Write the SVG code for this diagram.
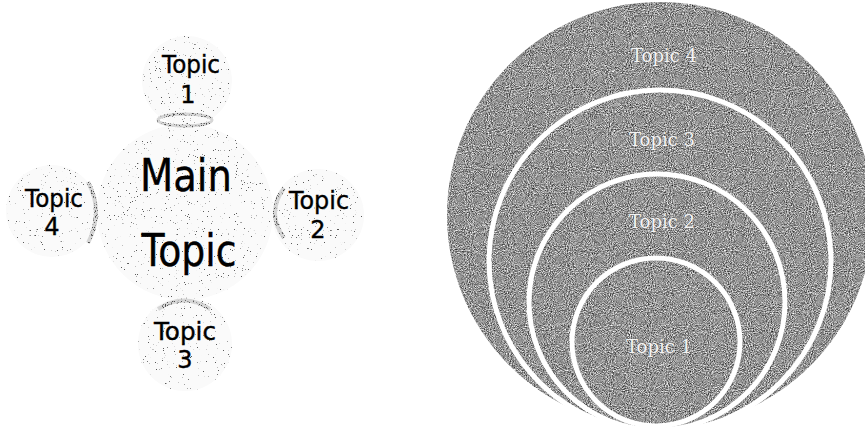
<svg xmlns="http://www.w3.org/2000/svg" width="865" height="429" viewBox="0 0 865 429">
<style>
.bub{fill:#fafafa;}
.lbl{font-family:"DejaVu Sans","Liberation Sans",sans-serif;fill:#000;text-anchor:middle;stroke:#000;stroke-width:0.4;}
.sm{font-size:24px;}
.big{font-size:45px;}
.cres{fill:none;stroke:#d6d6d6;}
.ring{fill:none;stroke:#ffffff;stroke-width:5;}
.rl{font-family:"DejaVu Serif","Liberation Serif",serif;font-size:18px;fill:#f4f4f4;text-anchor:middle;stroke:#555;stroke-width:0.4;paint-order:stroke;}
</style>
<defs>
<filter id="spk" x="-5%" y="-5%" width="110%" height="110%" color-interpolation-filters="sRGB">
<feTurbulence type="fractalNoise" baseFrequency="0.85" numOctaves="2" seed="7" result="n"/>
<feColorMatrix in="n" type="matrix" values="0 0 0 0 0.35  0 0 0 0 0.35  0 0 0 0 0.35  -16 0 0 0 4.5" result="d"/>
<feComposite in="d" in2="SourceAlpha" operator="in" result="dd"/>
<feMerge><feMergeNode in="SourceGraphic"/><feMergeNode in="dd"/></feMerge>
</filter>
<filter id="spkd" x="-20%" y="-20%" width="140%" height="140%" color-interpolation-filters="sRGB">
<feTurbulence type="fractalNoise" baseFrequency="0.9" numOctaves="2" seed="4" result="n"/>
<feColorMatrix in="n" type="matrix" values="0 0 0 0 0.3  0 0 0 0 0.3  0 0 0 0 0.3  -10 0 0 0 4.2" result="d"/>
<feComposite in="d" in2="SourceAlpha" operator="in" result="dd"/>
<feMerge><feMergeNode in="SourceGraphic"/><feMergeNode in="dd"/></feMerge>
</filter>
<filter id="grain" x="0" y="0" width="100%" height="100%" color-interpolation-filters="sRGB">
<feTurbulence type="fractalNoise" baseFrequency="0.95" numOctaves="2" seed="2" result="n"/>
<feColorMatrix in="n" type="matrix" values="1.2 0 0 0 -0.02  1.2 0 0 0 -0.02  1.2 0 0 0 -0.02  0 0 0 0 1" result="g"/>
<feComposite in="g" in2="SourceAlpha" operator="in"/>
</filter>
</defs>
<rect width="865" height="429" fill="#ffffff"/>

<!-- Left: main topic with four satellites -->
<g id="node-main">
<circle class="bub" cx="185" cy="212" r="88" filter="url(#spk)"/>
<text class="lbl big" x="186" y="191" textLength="92" lengthAdjust="spacingAndGlyphs">Main</text>
<text class="lbl big" x="189" y="266" textLength="95" lengthAdjust="spacingAndGlyphs">Topic</text>
</g>
<g id="node-topic1">
<circle class="bub" cx="187" cy="81" r="45" filter="url(#spk)"/>
<ellipse class="cres" cx="185" cy="120" rx="27" ry="6" stroke-width="3" filter="url(#spkd)"/>
<text class="lbl sm" x="191" y="73" textLength="58" lengthAdjust="spacingAndGlyphs">Topic</text>
<text class="lbl sm" x="188" y="103">1</text>
</g>
<g id="node-topic4">
<circle class="bub" cx="52" cy="211" r="46" filter="url(#spk)"/>
<path class="cres" d="M88,182 Q104,212 88,243" stroke-width="4" filter="url(#spkd)"/>
<text class="lbl sm" x="54" y="207" textLength="58" lengthAdjust="spacingAndGlyphs">Topic</text>
<text class="lbl sm" x="52" y="235">4</text>
</g>
<g id="node-topic2">
<circle class="bub" cx="318" cy="215" r="46" filter="url(#spk)"/>
<path class="cres" d="M284,188 Q266,213 284,238" stroke-width="4" filter="url(#spkd)"/>
<text class="lbl sm" x="319" y="209" textLength="60" lengthAdjust="spacingAndGlyphs">Topic</text>
<text class="lbl sm" x="318" y="238">2</text>
</g>
<g id="node-topic3">
<circle class="bub" cx="185" cy="344" r="47" filter="url(#spk)"/>
<path class="cres" d="M158,309 Q184,292 210,309" stroke-width="4" filter="url(#spkd)"/>
<text class="lbl sm" x="185" y="340" textLength="62" lengthAdjust="spacingAndGlyphs">Topic</text>
<text class="lbl sm" x="185" y="368">3</text>
</g>

<g id="connectors"/>

<!-- Right: nested circles -->
<g id="nested-fill" filter="url(#grain)">
<circle cx="660" cy="215" r="213" fill="#8e8e8e"/>
<circle cx="656" cy="342" r="84" fill="#8e8e8e"/>
</g>
<g id="node-ring4">
<text class="rl" x="664" y="62">Topic 4</text>
</g>
<g id="node-ring3">
<circle class="ring" cx="660" cy="261" r="171"/>
<text class="rl" x="662" y="146">Topic 3</text>
</g>
<g id="node-ring2">
<circle class="ring" cx="657" cy="302" r="128"/>
<text class="rl" x="662" y="228">Topic 2</text>
</g>
<g id="node-ring1">
<circle class="ring" cx="656" cy="342" r="84"/>
<text class="rl" x="659" y="353">Topic 1</text>
</g>
</svg>
